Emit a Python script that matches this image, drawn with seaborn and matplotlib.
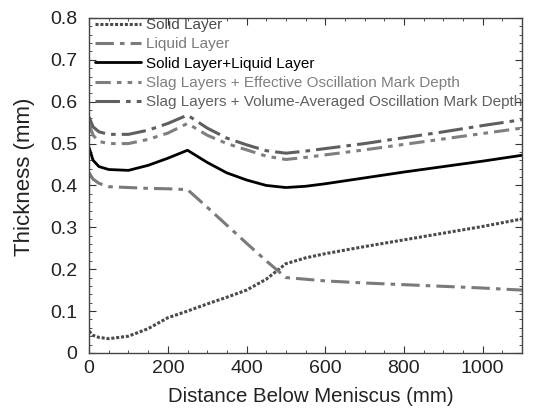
import matplotlib
matplotlib.use("Agg")
import matplotlib.pyplot as plt
import seaborn as sns
import pandas as pd
from matplotlib.ticker import MultipleLocator

x = [0, 10, 25, 50, 100, 150, 200, 250, 300, 350, 400, 450, 500, 550, 600, 700, 800, 900, 1000, 1100]
solid = [0.052, 0.042, 0.037, 0.034, 0.040, 0.058, 0.084, 0.100, 0.117, 0.133, 0.150, 0.176, 0.213, 0.227, 0.237, 0.254, 0.270, 0.286, 0.302, 0.320]
liquid = [0.43, 0.415, 0.405, 0.397, 0.395, 0.393, 0.392, 0.390, 0.348, 0.305, 0.262, 0.220, 0.180, 0.176, 0.172, 0.167, 0.163, 0.159, 0.155, 0.150]
combined = [0.49, 0.46, 0.445, 0.438, 0.436, 0.448, 0.465, 0.484, 0.455, 0.430, 0.413, 0.400, 0.395, 0.398, 0.404, 0.418, 0.432, 0.445, 0.458, 0.472]
effective = [0.545, 0.52, 0.505, 0.500, 0.500, 0.510, 0.525, 0.548, 0.520, 0.500, 0.485, 0.470, 0.462, 0.467, 0.473, 0.485, 0.498, 0.511, 0.524, 0.537]
volume = [0.563, 0.54, 0.528, 0.522, 0.522, 0.532, 0.548, 0.568, 0.537, 0.513, 0.497, 0.483, 0.477, 0.482, 0.488, 0.500, 0.514, 0.528, 0.543, 0.557]

labels = ["Solid Layer", "Liquid Layer", "Solid Layer+Liquid Layer",
          "Slag Layers + Effective Oscillation Mark Depth",
          "Slag Layers + Volume-Averaged Oscillation Mark Depth"]
series = [solid, liquid, combined, effective, volume]
colors = ["#4a4a4a", "#7a7a7a", "#000000", "#7f7f7f", "#5f5f5f"]
styles = [(0, (1, 0.6)), (0, (6, 2, 1.5, 2)), "-", (0, (5, 2, 1.5, 2, 1.5, 2)), (0, (8, 2, 1.5, 2))]
widths = [2.2, 2.2, 2.0, 2.2, 2.2]

sns.set_style("ticks")
plt.rcParams["font.family"] = ["Liberation Sans", "DejaVu Sans"]

fig = plt.figure(figsize=(5.37, 4.08), dpi=100)
ax = fig.add_axes([0.166, 0.135, 0.806, 0.821])

for s, lab, c, ls, lw in zip(series, labels, colors, styles, widths):
    df = pd.DataFrame({"x": x, "y": s})
    sns.lineplot(data=df, x="x", y="y", ax=ax, color=c, linestyle=ls, linewidth=lw, label=lab)

ax.set_xlim(0, 1100)
ax.set_ylim(0, 0.8)
ax.xaxis.set_major_locator(MultipleLocator(200))
ax.xaxis.set_minor_locator(MultipleLocator(50))
ax.yaxis.set_major_locator(MultipleLocator(0.1))
ax.yaxis.set_minor_locator(MultipleLocator(0.02))
ax.yaxis.set_major_formatter(matplotlib.ticker.FuncFormatter(lambda v, p: "0" if abs(v) < 1e-9 else f"{v:.1f}"))
ax.tick_params(which="both", direction="in", top=True, right=True, colors="#333333", labelcolor="#222222")
ax.tick_params(which="major", length=5, labelsize=14)
ax.tick_params(which="minor", length=2.5)
ax.tick_params(axis="x", which="major", pad=5)
ax.tick_params(axis="y", which="major", pad=8.5)
for sp in ax.spines.values():
    sp.set_color("#444444")
    sp.set_linewidth(1.0)
ax.set_xlabel("Distance Below Meniscus (mm)", fontsize=14.7, color="#222222", labelpad=7)
ax.set_ylabel("Thickness (mm)", fontsize=16, color="#222222", labelpad=11)
ax.xaxis.label.set_x(0.512)
ax.yaxis.label.set_y(0.527)

leg = ax.legend(loc="upper left", bbox_to_anchor=(0.0, 1.018), frameon=False, fontsize=11,
                handlelength=3.0, handletextpad=0.3, labelspacing=0.35, borderaxespad=0.0,
                labelcolor="linecolor")

fig.savefig("out.png", dpi=100)
